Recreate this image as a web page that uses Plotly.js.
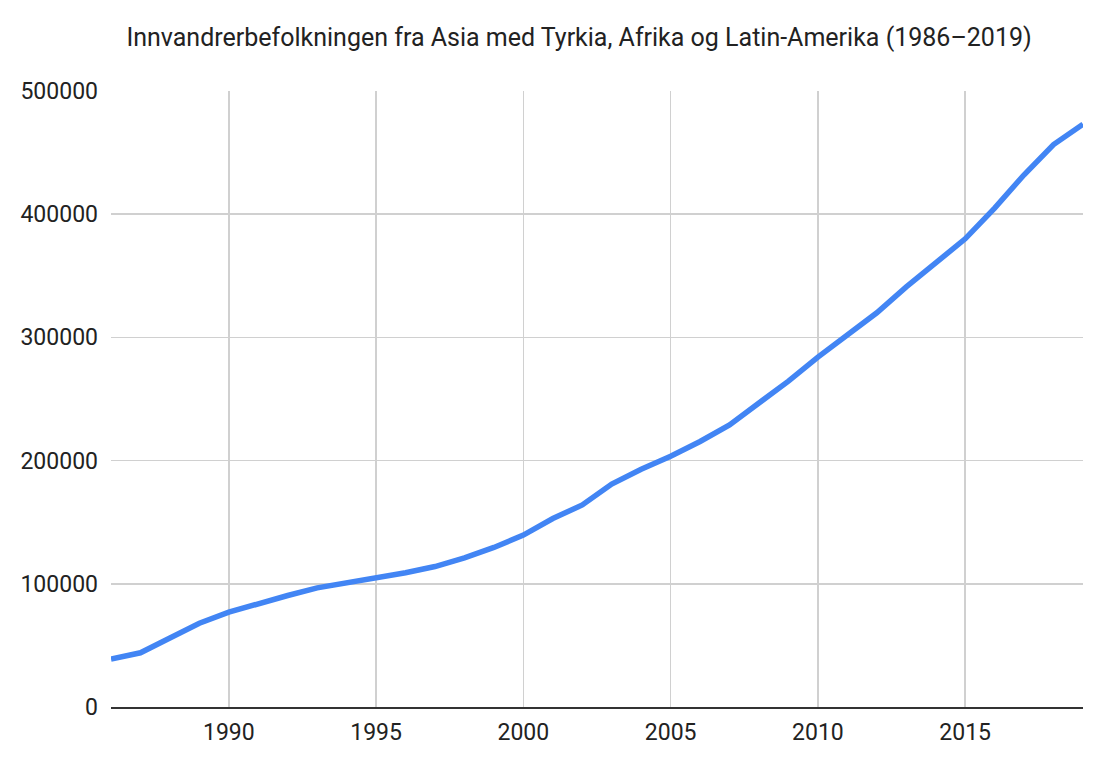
<!DOCTYPE html>
<html>
<head>
<meta charset="utf-8">
<script src="https://cdn.plot.ly/plotly-3.0.1.min.js"></script>
<style>
html,body{margin:0;padding:0;background:#fff;}
#chart{width:1103px;height:770px;}
</style>
</head>
<body>
<div id="chart"></div>
<script>
const years = [1986,1987,1988,1989,1990,1991,1992,1993,1994,1995,1996,1997,1998,1999,2000,2001,2002,2003,2004,2005,2006,2007,2008,2009,2010,2011,2012,2013,2014,2015,2016,2017,2018,2019];
const population = [39000,44000,56000,68000,77000,84000,90500,96700,100500,104500,109000,114000,121000,129500,139500,153000,164000,181000,193000,203500,215500,229000,247000,264500,284000,302000,320000,341000,360000,380000,405000,432000,456500,473000];
const xTicks = [1990,1995,2000,2005,2010,2015];
const yTicks = [0,100000,200000,300000,400000,500000];
const titleText = "Innvandrerbefolkningen fra Asia med Tyrkia, Afrika og Latin-Amerika (1986–2019)";

const trace = {
  x: years,
  y: population,
  type: 'scatter',
  mode: 'lines',
  line: {color: '#4285F4', width: 5.5},
  hoverinfo: 'x+y'
};

const layout = {
  width: 1103,
  height: 770,
  paper_bgcolor: '#ffffff',
  plot_bgcolor: '#ffffff',
  margin: {l: 111, r: 20, t: 91, b: 63},
  showlegend: false,
  font: {family: 'Roboto, Arial, sans-serif', color: '#222222'},
  title: {
    text: titleText,
    font: {family: 'Roboto, Arial, sans-serif', size: 25, color: '#222222'},
    xref: 'container', x: 0.525, xanchor: 'center',
    yref: 'container', y: 0.951, yanchor: 'middle'
  },
  xaxis: {
    range: [1986, 2019],
    tickvals: xTicks,
    ticktext: xTicks.map(String),
    showgrid: true,
    gridcolor: '#d0d0d0',
    gridwidth: 1.5,
    zeroline: false,
    showline: true,
    linecolor: '#333333',
    linewidth: 1.5,
    ticks: '',
    tickfont: {family: 'Roboto, Arial, sans-serif', size: 23, color: '#222222'},
    ticklabelstandoff: 4
  },
  yaxis: {
    range: [0, 500000],
    tickvals: yTicks,
    ticktext: yTicks.map(String),
    showgrid: true,
    gridcolor: '#d0d0d0',
    gridwidth: 1.5,
    zeroline: false,
    showline: false,
    ticks: '',
    tickfont: {family: 'Roboto, Arial, sans-serif', size: 23, color: '#222222'},
    ticklabelstandoff: 12
  }
};

Plotly.newPlot('chart', [trace], layout, {displayModeBar: false, staticPlot: true});
</script>
</body>
</html>
